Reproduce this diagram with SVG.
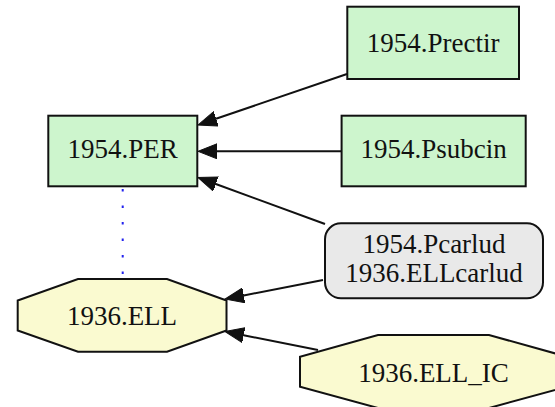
<svg xmlns="http://www.w3.org/2000/svg" width="555" height="407" viewBox="0 0 555 407">
<style>
.box{fill:#cdf5cd;stroke:#111;stroke-width:2}
.oct{fill:#fafad0;stroke:#111;stroke-width:2}
.grey{fill:#e9e9e9;stroke:#111;stroke-width:2}
.lbl{font-size:27px;fill:#111;text-anchor:middle}
.edge{fill:none;stroke:#111;stroke-width:2}
.dot{fill:none;stroke:#2222ee;stroke-width:2;stroke-dasharray:2.5 14}
</style>
<defs>
<marker id="ah" viewBox="0 -8 20 16" refX="0" refY="0" markerWidth="20" markerHeight="16" markerUnits="userSpaceOnUse" orient="auto">
<path d="M0,-7.5 L19,0 L0,7.5 z" fill="#111" stroke="#111" stroke-width="1"/>
</marker>
</defs>
<rect width="555" height="407" fill="#ffffff"/>
<g id="connectors">
<path class="edge" d="M347,74 L216,118.8" marker-end="url(#ah)"/>
<path class="edge" d="M341.6,151.3 L217,151.3" marker-end="url(#ah)"/>
<path class="edge" d="M325,224 L215.8,184" marker-end="url(#ah)"/>
<path class="edge" d="M323,280 L243.7,295.4" marker-end="url(#ah)"/>
<path class="edge" d="M318,350 L243.6,335.2" marker-end="url(#ah)"/>
<path class="dot" d="M122.7,189 L122.7,279"/>
</g>
<g font-family="'Liberation Serif', 'Times New Roman', Times, serif">
<g id="n_prectir">
<rect class="box" x="347.3" y="6.7" width="171.7" height="72.3"/>
<text class="lbl" x="433.2" y="51.5">1954.Prectir</text>
</g>
<g id="n_per">
<rect class="box" x="48.3" y="115.7" width="149" height="70.6"/>
<text class="lbl" x="122.7" y="158.3">1954.PER</text>
</g>
<g id="n_psubcin">
<rect class="box" x="341.6" y="115.7" width="184.1" height="70.6"/>
<text class="lbl" x="433.6" y="158.3">1954.Psubcin</text>
</g>
<g id="n_pcarlud">
<rect class="grey" x="325" y="223.3" width="218" height="75" rx="16" ry="16"/>
<text class="lbl" x="434" y="253.3">1954.Pcarlud</text>
<text class="lbl" x="434" y="281.7">1936.ELLcarlud</text>
</g>
<g id="n_ell">
<polygon class="oct" points="78,279 167,279 226.5,300.5 226.5,330.5 167,351.7 78,351.7 17.7,330.5 17.7,300.5"/>
<text class="lbl" x="122" y="325">1936.ELL</text>
</g>
<g id="n_ell_ic">
<polygon class="oct" points="378,335 489,335 567,356.7 567,386.7 489,408 378,408 300,386.7 300,356.7"/>
<text class="lbl" x="433.5" y="381.7">1936.ELL_IC</text>
</g>
</g>
</svg>
